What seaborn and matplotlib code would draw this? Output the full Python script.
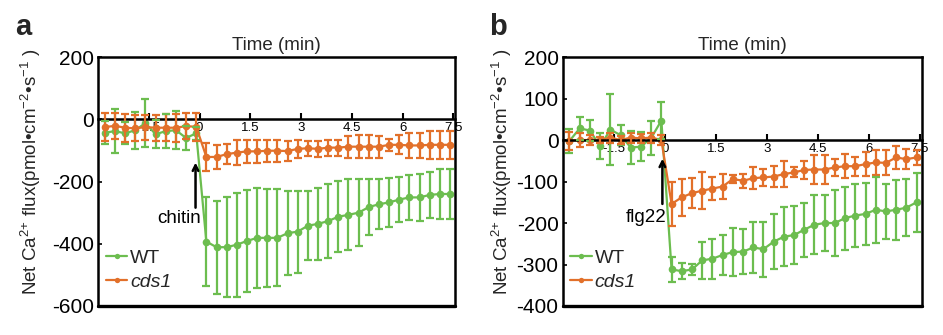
import numpy as np
import pandas as pd
import matplotlib
matplotlib.use("Agg")
import matplotlib.pyplot as plt
import seaborn as sns

# ---------------- data ----------------
time_min = [-2.8, -2.5, -2.2, -1.9, -1.6, -1.3, -1.0, -0.7, -0.4, -0.1,
            0.2, 0.5, 0.8, 1.1, 1.4, 1.7, 2.0, 2.3, 2.6, 2.9, 3.2, 3.5, 3.8,
            4.1, 4.4, 4.7, 5.0, 5.3, 5.6, 5.9, 6.2, 6.5, 6.8, 7.1, 7.4]

# panel a (chitin)
a_wt = [-43, -38, -45, -35, -12, -48, -38, -35, -60, -45,
        -393, -411, -411, -403, -391, -381, -381, -381, -366, -361, -342, -336,
        -327, -313, -307, -300, -282, -273, -267, -258, -251, -251, -243, -240, -240]
a_wt_sd = [37, 71, 35, 59, 78, 45, 54, 61, 40, 21,
           143, 150, 161, 167, 165, 161, 157, 156, 136, 132, 111, 116,
           119, 115, 114, 108, 89, 81, 78, 72, 72, 75, 75, 79, 81]
a_cds1 = [-25, -21, -27, -29, -25, -27, -27, -27, -22, -24,
          -121, -121, -112, -107, -103, -103, -101, -101, -102, -95, -93, -95,
          -91, -91, -88, -88, -88, -88, -82, -82, -84, -84, -82, -82, -82]
a_cds1_sd = [45, 42, 45, 42, 40, 42, 44, 45, 42, 45,
             44, 40, 32, 41, 38, 38, 36, 36, 31, 30, 24, 25,
             26, 26, 35, 36, 36, 35, 20, 30, 40, 40, 45, 44, 45]

# panel b (flg22)
b_wt = [-2, 28, 23, -15, 25, 12, -18, -16, 5, 47,
        -312, -316, -312, -290, -286, -277, -270, -269, -259, -263, -245, -233,
        -229, -216, -204, -200, -200, -188, -182, -178, -168, -172, -168, -163, -150]
b_wt_sd = [29, 28, 25, 31, 86, 25, 39, 35, 41, 44,
           29, 20, 14, 44, 48, 49, 58, 55, 61, 66, 67, 71,
           70, 65, 71, 68, 80, 76, 76, 74, 79, 66, 72, 69, 71]
b_cds1 = [-2, 0, 0, 0, 6, 0, 6, 4, 6, 0,
          -154, -138, -128, -122, -117, -112, -94, -98, -92, -90, -88, -82,
          -78, -72, -71, -71, -66, -63, -63, -58, -54, -55, -42, -46, -42]
b_cds1_sd = [22, 17, 11, 8, 12, 10, 12, 10, 12, 12,
             54, 44, 36, 44, 28, 30, 10, 17, 27, 21, 25, 31,
             12, 22, 35, 34, 20, 29, 23, 29, 30, 30, 28, 24, 18]

genotypes = ["WT", "cds1"]
x_ticks = [-1.5, 0, 1.5, 3, 4.5, 6, 7.5]
x_tick_labels = ["-1.5", "0", "1.5", "3", "4.5", "6", "7.5"]
a_yticks = [-600, -400, -200, 0, 200]
b_yticks = [-400, -300, -200, -100, 0, 100, 200]

GREEN = "#6cbd4f"
ORANGE = "#e2702a"

# ---------------- style ----------------
sns.set_theme(style="white")
plt.rcParams["font.family"] = ["Liberation Sans", "DejaVu Sans"]
plt.rcParams["axes.unicode_minus"] = False
plt.rcParams["mathtext.fontset"] = "custom"
plt.rcParams["mathtext.rm"] = "Liberation Sans"
plt.rcParams["mathtext.it"] = "Liberation Sans:italic"
plt.rcParams["mathtext.default"] = "regular"

fig = plt.figure(figsize=(9.43, 3.35), dpi=100)
axA = fig.add_axes([0.104, 0.0866, 0.3786, 0.743])
axB = fig.add_axes([0.5967, 0.0866, 0.3807, 0.743])


def make_df(wt, wt_sd, cd, cd_sd):
    return pd.DataFrame({
        "time": time_min + time_min,
        "flux": wt + cd,
        "sd": wt_sd + cd_sd,
        "genotype": [genotypes[0]] * len(time_min) + [genotypes[1]] * len(time_min),
    })


def draw(ax, df, ylim, yticks, stim, arrow_x, arrow_y0, arrow_y1, text_x, text_y, label_x):
    for g, c in zip(genotypes, [GREEN, ORANGE]):
        sub = df[df.genotype == g]
        ax.errorbar(sub.time, sub.flux, yerr=sub.sd, fmt="none", ecolor=c,
                    elinewidth=1.6, capsize=2.6, capthick=1.6, zorder=2 if g == "WT" else 4)
    sns.lineplot(data=df, x="time", y="flux", hue="genotype", palette=[GREEN, ORANGE],
                 marker="o", markersize=5.5, markeredgewidth=0, linewidth=1.6,
                 ax=ax, legend=True)
    for ln, z in zip(ax.lines, [3, 5]):
        ln.set_zorder(z)
    ax.set_xlim(-3, 7.55)
    ax.set_ylim(*ylim)
    ax.set_yticks(yticks)
    ax.set_xticks(x_ticks)
    ax.set_xticklabels(x_tick_labels)
    ax.spines["bottom"].set_position(("data", 0))
    for s in ["left", "right", "top", "bottom"]:
        ax.spines[s].set_visible(True)
        ax.spines[s].set_color("black")
        ax.spines[s].set_linewidth(1.8)
    ax.axhline(ylim[0], color="black", lw=2.4, clip_on=False, zorder=6)
    ax.tick_params(axis="x", direction="in", length=4, width=1.5, labelsize=9.5,
                   pad=2, bottom=True, colors="black")
    ax.tick_params(axis="y", direction="in", length=3, width=1.2, labelsize=15,
                   pad=3, left=True, colors="black")
    ax.set_xlabel("")
    ax.set_ylabel(r"Net Ca$^{2{+}}$ flux(pmol•cm$^{-2}$•s$^{-1}$ )", fontsize=13.5)
    ax.yaxis.set_label_coords(label_x, 0.54)
    ax.set_title("Time (min)", fontsize=13.5, pad=5)
    sns.move_legend(ax, "lower left", bbox_to_anchor=(0.0, 0.03), frameon=False,
                    title=None, fontsize=14, handlelength=1.1, handletextpad=0.15,
                    labelspacing=0.3, borderaxespad=0.0, markerscale=0.7)
    leg = ax.get_legend()
    leg.get_texts()[1].set_fontstyle("italic")
    ax.annotate("", xy=(arrow_x, arrow_y1), xytext=(arrow_x, arrow_y0),
                arrowprops=dict(arrowstyle="->", lw=1.8, color="black",
                                shrinkA=0, shrinkB=0, mutation_scale=10), zorder=7)
    ax.text(text_x, text_y, stim, fontsize=13.5, ha="center", va="center", color="black",
            zorder=7)


dfa = make_df(a_wt, a_wt_sd, a_cds1, a_cds1_sd)
dfb = make_df(b_wt, b_wt_sd, b_cds1, b_cds1_sd)

draw(axA, dfa, (-600, 200), a_yticks, "chitin", -0.12, -284, -139, -0.6, -320, -0.155)
draw(axB, dfb, (-400, 200), b_yticks, "flg22", -0.07, -154, -45, -0.56, -186, -0.137)

fig.text(0.016, 0.918, "a", fontsize=21, fontweight="bold", va="center", ha="left")
fig.text(0.519, 0.918, "b", fontsize=21, fontweight="bold", va="center", ha="left")

fig.savefig("out.png", dpi=100)
